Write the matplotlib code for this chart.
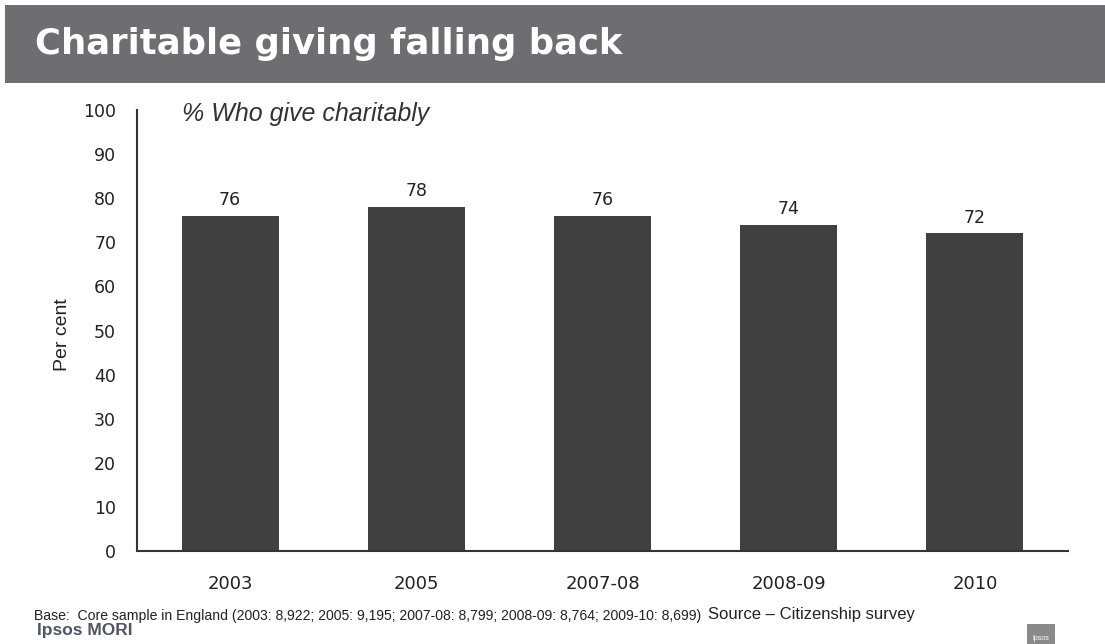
import matplotlib.pyplot as plt
from matplotlib.patches import Rectangle

# Survey waves and share who give to charity (%)
years = ["2003", "2005", "2007-08", "2008-09", "2010"]
pct_giving = [76, 78, 76, 74, 72]
y_ticks = [0, 10, 20, 30, 40, 50, 60, 70, 80, 90, 100]

W, H = 1105, 644
plt.rcParams['font.family'] = ['Liberation Sans', 'DejaVu Sans']
DIGITS = 'DejaVu Sans'

fig = plt.figure(figsize=(W / 100, H / 100), dpi=100)
fig.patch.set_facecolor('white')

# grey header band
fig.patches.append(Rectangle((5 / W, 1 - 83 / H), 1 - 5 / W, 78 / H,
                             transform=fig.transFigure, facecolor='#6e6e72',
                             edgecolor='none', zorder=0))
fig.text(35 / W, 1 - 44 / H, "Charitable giving falling back", color='white',
         fontsize=25.5, fontweight='bold', family='DejaVu Sans',
         va='center', ha='left')

ax = fig.add_axes([137 / W, 1 - 551 / H, (1068 - 137) / W, (551 - 110) / H])
x = range(len(years))
bars = ax.bar(x, pct_giving, width=0.52, color='#404040', zorder=2)
for b, v in zip(bars, pct_giving):
    ax.text(b.get_x() + b.get_width() / 2, v + 1.5, str(v), ha='center',
            va='bottom', fontsize=12.5, color='#222222', family=DIGITS)

ax.set_xlim(-0.5, len(years) - 0.5)
ax.set_ylim(0, 100)
ax.set_xticks(list(x))
ax.set_xticklabels(years, fontsize=13, family=DIGITS)
ax.set_yticks(y_ticks)
ax.set_yticklabels([str(t) for t in y_ticks], fontsize=12.5, family=DIGITS)
ax.tick_params(axis='both', length=0, colors='#222222')
ax.tick_params(axis='x', pad=17)
ax.tick_params(axis='y', pad=15)
for side in ['top', 'right']:
    ax.spines[side].set_visible(False)
for side in ['left', 'bottom']:
    ax.spines[side].set_color('#333333')
    ax.spines[side].set_linewidth(1.5)
ax.set_ylabel("Per cent", fontsize=14, color='#222222')
ax.yaxis.set_label_coords(-66 / 931, 0.49)
ax.text(0.048, 0.99, "% Who give charitably", transform=ax.transAxes,
        fontsize=18, style='italic', color='#333333', va='center', ha='left')

# footnote and branding
fig.text(34 / W, 1 - 616 / H,
         "Base:  Core sample in England (2003: 8,922; 2005: 9,195; 2007-08: 8,799; "
         "2008-09: 8,764; 2009-10: 8,699)", fontsize=10.1, va='center', ha='left',
         color='#222222')
fig.text(708 / W, 1 - 615 / H, "Source \u2013 Citizenship survey", fontsize=12,
         va='center', ha='left', color='#222222')
fig.text(37 / W, 1 - 631 / H, "Ipsos MORI", fontsize=12.5, fontweight='bold',
         va='center', ha='left', color='#4f5563')
fig.patches.append(Rectangle((1027 / W, 1 - 644 / H), 28 / W, 20 / H,
                             transform=fig.transFigure, facecolor='#8a8a8a',
                             edgecolor='none'))
fig.text(1041 / W, 1 - 639 / H, "Ipsos", fontsize=5, color='white',
         ha='center', va='center')

fig.savefig("out.png", dpi=100)
